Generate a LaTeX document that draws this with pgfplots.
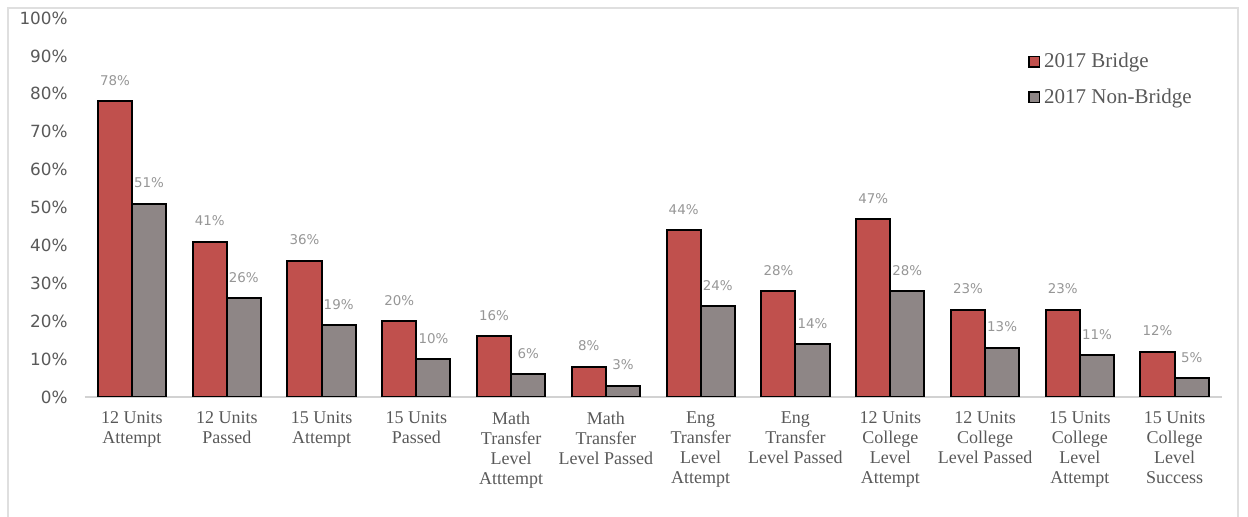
\documentclass[border=0pt]{standalone}
\usepackage{fontspec}
\setmainfont{Liberation Serif}
\newfontfamily\dvs{DejaVu Sans}
\usepackage{pgfplots}
\pgfplotsset{compat=1.18}
\definecolor{bridge}{RGB}{192,80,77}
\definecolor{nonbridge}{RGB}{142,134,134}
\definecolor{txt}{RGB}{89,89,89}
\definecolor{lbl}{RGB}{150,150,150}
\begin{document}
\begin{tikzpicture}[x=1pt,y=1pt]
\useasboundingbox (-42.3,-60) rectangle (581.7,198.5);
\draw[gray!25, line width=0.8pt] (-38.3,-60) -- (-38.3,194.5) -- (576.7,194.5) -- (576.7,-60);
\begin{axis}[
  at={(0pt,0pt)}, anchor=south west,
  scale only axis,
  width=568.7pt, height=189.5pt,
  ymin=0, ymax=100,
  xmin=-0.5, xmax=11.5,
  ybar, bar width=0.36,
  axis lines=left,
  x axis line style={draw=gray!35, line width=1pt, -},
  y axis line style={draw=none},
  major tick length=0pt,
  ytick={0,10,...,100},
  yticklabel={\pgfmathprintnumber{\tick}\%},
  /pgf/number format/assume math mode=true,
  yticklabel style={font=\dvs\fontsize{8.4}{9}\selectfont, color=txt, xshift=-5pt},
  xtick=data,
  xticklabels={{12 Units\\Attempt},{12 Units\\Passed},{15 Units\\Attempt},{15 Units\\Passed},{Math\\Transfer\\Level\\Atttempt},{Math\\Transfer\\Level Passed},{Eng\\Transfer\\Level\\Attempt},{Eng\\Transfer\\Level Passed},{12 Units\\College\\Level\\Attempt},{12 Units\\College\\Level Passed},{15 Units\\College\\Level\\Attempt},{15 Units\\College\\Level\\Success}},
  xticklabel style={font=\fontsize{9}{10}\selectfont, color=txt, align=center, anchor=north, yshift=-4pt},
  nodes near coords={\pgfmathprintnumber{\pgfplotspointmeta}\%},
  every node near coord/.append style={font=\dvs\fontsize{6.7}{7}\selectfont, color=lbl, yshift=4pt},
  legend style={draw=none, fill=none, at={(rel axis cs:0.824,0.93)}, anchor=north west,
    font=\fontsize{10.5}{12}\selectfont, text=txt, row sep=5pt, legend cell align=left},
  legend image code/.code={\draw[#1, line width=0.8pt] (0pt,-2.6pt) rectangle (5.2pt,2.6pt);},
]
\addplot[fill=bridge, draw=black, line width=1pt, bar shift=-0.18] coordinates {
(0,78) (1,41) (2,36) (3,20) (4,16) (5,8) (6,44) (7,28) (8,47) (9,23) (10,23) (11,12)};
\addlegendentry{2017 Bridge}
\addplot[fill=nonbridge, draw=black, line width=1pt, bar shift=0.18] coordinates {
(0,51) (1,26) (2,19) (3,10) (4,6) (5,3) (6,24) (7,14) (8,28) (9,13) (10,11) (11,5)};
\addlegendentry{2017 Non-Bridge}
\end{axis}
\end{tikzpicture}
\end{document}
